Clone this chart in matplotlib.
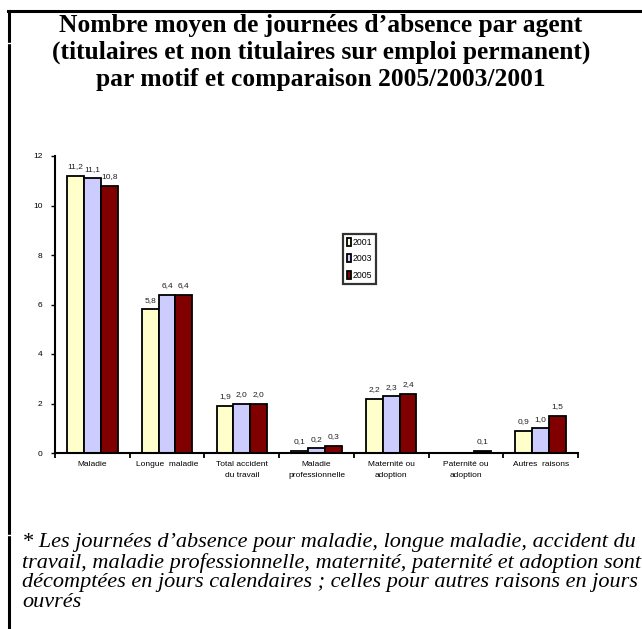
import matplotlib
matplotlib.use("Agg")
import matplotlib.pyplot as plt
from matplotlib.lines import Line2D
import numpy as np

categories = ["Maladie", "Longue  maladie", "Total accident\ndu travail",
              "Maladie\nprofessionnelle", "Maternité ou\nadoption",
              "Paternité ou\nadoption", "Autres  raisons"]
years = ["2001", "2003", "2005"]
v2001 = [11.2, 5.8, 1.9, 0.1, 2.2, 0.0, 0.9]
v2003 = [11.1, 6.4, 2.0, 0.2, 2.3, 0.0, 1.0]
v2005 = [10.8, 6.4, 2.0, 0.3, 2.4, 0.1, 1.5]
colors = ["#FFFFCC", "#CCCCFF", "#800000"]
yticks = [0, 2, 4, 6, 8, 10, 12]

W, H = 642, 629
fig = plt.figure(figsize=(W / 100, H / 100), dpi=100)

# frame lines
fig.add_artist(Line2D([8 / W, 1.0], [1 - 11 / H, 1 - 11 / H], color="black", lw=2.2,
                      transform=fig.transFigure))
fig.add_artist(Line2D([8.5 / W, 8.5 / W], [1 - 11 / H, 0], color="black", lw=2.2,
                      transform=fig.transFigure))
for yy in [43, 535]:
    fig.add_artist(Line2D([6 / W, 12 / W], [1 - yy / H, 1 - yy / H], color="white", lw=1.0,
                          transform=fig.transFigure))

fig.text(0.5, 1 - 14 / H,
         "Nombre moyen de journées d’absence par agent\n"
         "(titulaires et non titulaires sur emploi permanent)\n"
         "par motif et comparaison 2005/2003/2001",
         ha="center", va="top", family="Liberation Serif", fontweight="bold",
         fontsize=18.4, linespacing=1.22)

ax = fig.add_axes([55 / W, 1 - 453 / H, (578 - 55) / W, (453 - 156) / H])
x = np.arange(len(categories))
bw = 0.225
series = [v2001, v2003, v2005]
for i, (vals, c, yr) in enumerate(zip(series, colors, years)):
    pos = x + (i - 1) * bw
    ax.bar(pos, vals, width=bw, color=c, edgecolor="black", linewidth=1.3, label=yr)
    for p, v in zip(pos, vals):
        if v > 0:
            ax.text(p, v + 0.22, f"{v:.1f}".replace(".", ","), ha="center", va="bottom",
                    fontsize=6, family="Liberation Sans", color="#222222")

ax.set_xlim(-0.5, len(categories) - 0.5)
ax.set_ylim(0, 12)
ax.set_yticks(yticks)
ax.set_yticklabels([str(t) for t in yticks], fontsize=6, family="Liberation Sans")
ax.set_xticks(np.arange(len(categories) + 1) - 0.5)
ax.set_xticklabels([])
ax.set_xticks(x, minor=True)
ax.set_xticklabels(categories, minor=True, fontsize=6, family="Liberation Sans",
                   linespacing=1.75)
ax.tick_params(axis="x", which="minor", length=0, pad=6)
ax.tick_params(axis="x", which="major", length=3.5, width=1.3, direction="out")
ax.tick_params(axis="y", length=3, width=1.0, direction="out", pad=6)
for s in ["top", "right"]:
    ax.spines[s].set_visible(False)
for s in ["left", "bottom"]:
    ax.spines[s].set_linewidth(1.5)

leg = fig.legend(loc="upper left", bbox_to_anchor=(343 / W, 1 - 234 / H),
                 prop={"family": "Liberation Sans", "size": 6.3},
                 handlelength=0.5, handleheight=1.0, handletextpad=0.15,
                 labelspacing=0.85, borderpad=0.45, borderaxespad=0,
                 fancybox=False, frameon=True)
leg.get_frame().set_edgecolor("black")
leg.get_frame().set_linewidth(1.6)

fig.text(22 / W, 1 - 533 / H,
         "* Les journées d’absence pour maladie, longue maladie, accident du\n"
         "travail, maladie professionnelle, maternité, paternité et adoption sont\n"
         "décomptées en jours calendaires ; celles pour autres raisons en jours\n"
         "ouvrés",
         ha="left", va="top", family="Liberation Serif", style="italic",
         fontsize=16, linespacing=1.04)

fig.savefig("out.png", dpi=100)
